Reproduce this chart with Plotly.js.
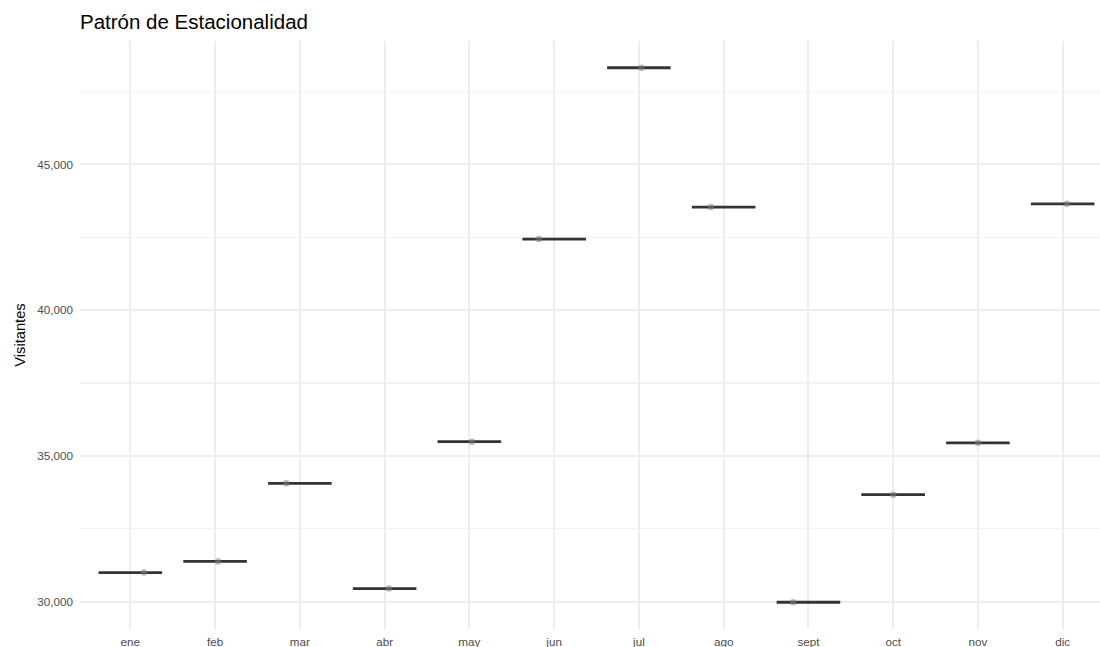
<!DOCTYPE html>
<html>
<head>
<meta charset="utf-8">
<script src="https://cdn.plot.ly/plotly-3.0.1.min.js"></script>
<style>
html,body{margin:0;padding:0;background:#fff;}
#chart{width:1100px;height:647px;}
</style>
</head>
<body>
<div id="chart"></div>
<script>
// Months (categories)
var months = ["ene","feb","mar","abr","may","jun","jul","ago","sept","oct","nov","dic"];
// Visitors per month
var visitantes = [31000, 31380, 34060, 30450, 35490, 42440, 48320, 43540, 29980, 33670, 35450, 43650];
// Horizontal jitter of the points (in category units)
var jitter = [0.16, 0.035, -0.16, 0.05, 0.03, -0.18, 0.03, -0.15, -0.18, 0.0, 0.0, 0.05];
// Y tick values
var yTicks = [30000, 35000, 40000, 45000];

var idx = months.map(function(_, i){ return i; });

var boxTrace = {
  type: "box",
  x: idx,
  y: visitantes,
  width: 0.75,
  boxpoints: false,
  fillcolor: "#ffffff",
  line: {color: "#333333", width: 2.8},
  whiskerwidth: 0,
  hoverinfo: "y",
  showlegend: false
};

var pointTrace = {
  type: "scatter",
  mode: "markers",
  x: idx.map(function(i){ return i + jitter[i]; }),
  y: visitantes,
  marker: {color: "rgba(112,128,150,0.55)", size: 6.5, line: {width: 0}},
  hoverinfo: "y",
  showlegend: false
};

var layout = {
  width: 1100,
  height: 647,
  margin: {l: 80, r: 0, t: 41, b: 18},
  paper_bgcolor: "#ffffff",
  plot_bgcolor: "#ffffff",
  font: {family: "Liberation Sans, Arial, sans-serif", color: "#4D4D4D"},
  title: {
    text: "Patrón de Estacionalidad",
    font: {family: "Liberation Sans, Arial, sans-serif", size: 20.5, color: "#000000"},
    xref: "paper", x: 0, xanchor: "left",
    yref: "container", y: 1 - 21.5/647, yanchor: "middle"
  },
  xaxis: {
    range: [-0.594, 11.44],
    tickmode: "array",
    tickvals: idx,
    ticktext: months,
    showgrid: true,
    gridcolor: "#EDEDED",
    gridwidth: 2,
    zeroline: false,
    showline: false,
    ticks: "",
    ticklabelstandoff: 4,
    tickfont: {size: 11.7, color: "#4D4D4D"}
  },
  yaxis: {
    range: [29063, 49237],
    tickmode: "array",
    tickvals: yTicks,
    tickformat: ",",
    showgrid: true,
    gridcolor: "#EDEDED",
    gridwidth: 2,
    minor: {tickmode: "linear", tick0: 27500, dtick: 5000, showgrid: true, gridcolor: "#F2F2F2", gridwidth: 1.2, ticks: ""},
    zeroline: false,
    showline: false,
    ticks: "",
    ticklabelstandoff: 6,
    tickfont: {size: 11.7, color: "#4D4D4D"},
    title: {text: "Visitantes", font: {size: 14.7, color: "#000000"}, standoff: 8}
  }
};

Plotly.newPlot("chart", [boxTrace, pointTrace], layout, {displayModeBar: false, staticPlot: true});
</script>
</body>
</html>
